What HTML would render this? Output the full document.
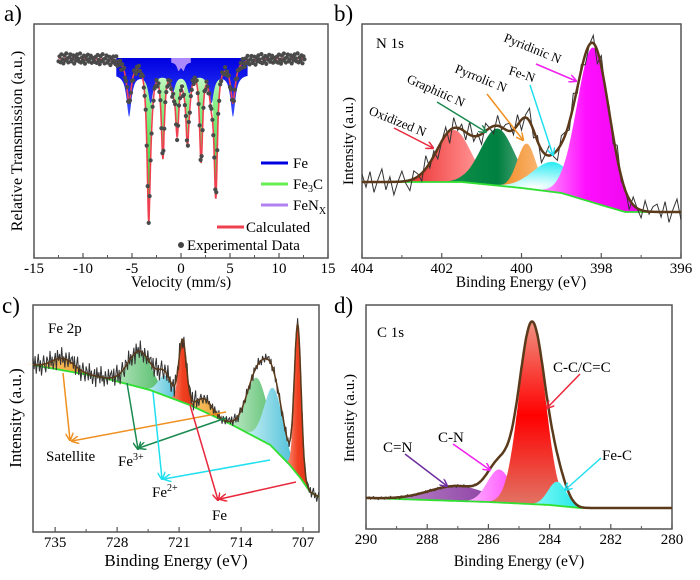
<!DOCTYPE html>
<html><head><meta charset="utf-8"><style>
html,body{margin:0;padding:0;background:#fff;}
svg{display:block;}
svg text{font-family:"Liberation Serif","DejaVu Serif","Noto Serif CJK SC",serif;}
</style></head><body>
<svg id="fig" width="700" height="580" viewBox="0 0 700 580">
<defs>
<linearGradient id="gBlue" x1="0" y1="0" x2="0" y2="1"><stop offset="0" stop-color="#0000e0"/><stop offset="1" stop-color="#3a50ff"/></linearGradient>
<linearGradient id="gGreenA" x1="0" y1="0" x2="0" y2="1"><stop offset="0" stop-color="#f4fff0"/><stop offset="0.3" stop-color="#8af08a"/><stop offset="1" stop-color="#22cc22"/></linearGradient>
<linearGradient id="gOx" x1="0" y1="0" x2="1" y2="0"><stop offset="0" stop-color="#e00000"/><stop offset="0.6" stop-color="#f88"/><stop offset="1" stop-color="#fff"/></linearGradient>
<linearGradient id="gGr" x1="0" y1="0" x2="1" y2="0"><stop offset="0" stop-color="#1a9a50"/><stop offset="0.5" stop-color="#008040"/><stop offset="1" stop-color="#f0f0f0"/></linearGradient>
<linearGradient id="gPy" x1="0" y1="0" x2="1" y2="0"><stop offset="0" stop-color="#f07800"/><stop offset="1" stop-color="#ffd8b0"/></linearGradient>
<radialGradient id="gFeN" cx="0.4" cy="0.5" r="0.6"><stop offset="0" stop-color="#fff"/><stop offset="1" stop-color="#00e8f0"/></radialGradient>
<linearGradient id="gPyd" x1="0" y1="0" x2="1" y2="0"><stop offset="0" stop-color="#ffe0ff"/><stop offset="0.45" stop-color="#ff10ff"/><stop offset="1" stop-color="#e000e0"/></linearGradient>
<linearGradient id="gCg" x1="0" y1="0" x2="1" y2="0"><stop offset="0" stop-color="#f4fff4"/><stop offset="1" stop-color="#10a030"/></linearGradient>
<linearGradient id="gCc" x1="0" y1="0" x2="1" y2="0"><stop offset="0" stop-color="#f0ffff"/><stop offset="1" stop-color="#10a8c8"/></linearGradient>
<linearGradient id="gCr" x1="0" y1="0" x2="1" y2="0"><stop offset="0" stop-color="#ffb0a0"/><stop offset="0.5" stop-color="#f04020"/><stop offset="1" stop-color="#d83018"/></linearGradient>
<linearGradient id="gCo" x1="0" y1="0" x2="1" y2="0"><stop offset="0" stop-color="#ffe0a0"/><stop offset="1" stop-color="#e88800"/></linearGradient>
<linearGradient id="gDr" x1="0" y1="0" x2="0" y2="1"><stop offset="0" stop-color="#f09080"/><stop offset="0.5" stop-color="#ff0000"/><stop offset="1" stop-color="#e07868"/></linearGradient>
<linearGradient id="gDp" x1="0" y1="0" x2="1" y2="0"><stop offset="0" stop-color="#d8b0e0"/><stop offset="1" stop-color="#600080"/></linearGradient>
<linearGradient id="gDm" x1="0" y1="0" x2="1" y2="0"><stop offset="0" stop-color="#ffe0ff"/><stop offset="1" stop-color="#ff00ff"/></linearGradient>
<linearGradient id="gDc" x1="0" y1="0" x2="1" y2="0"><stop offset="0" stop-color="#a0ffff"/><stop offset="1" stop-color="#00e0e0"/></linearGradient>
<marker id="m-red" markerWidth="8" markerHeight="8" refX="7" refY="4" orient="auto" markerUnits="userSpaceOnUse"><path d="M0,0 L8,4 L0,8" fill="none" stroke="#e8283c" stroke-width="1.5"/></marker>
<marker id="m-grn" markerWidth="8" markerHeight="8" refX="7" refY="4" orient="auto" markerUnits="userSpaceOnUse"><path d="M0,0 L8,4 L0,8" fill="none" stroke="#1a8a50" stroke-width="1.5"/></marker>
<marker id="m-org" markerWidth="8" markerHeight="8" refX="7" refY="4" orient="auto" markerUnits="userSpaceOnUse"><path d="M0,0 L8,4 L0,8" fill="none" stroke="#f09020" stroke-width="1.5"/></marker>
<marker id="m-cyn" markerWidth="8" markerHeight="8" refX="7" refY="4" orient="auto" markerUnits="userSpaceOnUse"><path d="M0,0 L8,4 L0,8" fill="none" stroke="#20e0f0" stroke-width="1.5"/></marker>
<marker id="m-mag" markerWidth="8" markerHeight="8" refX="7" refY="4" orient="auto" markerUnits="userSpaceOnUse"><path d="M0,0 L8,4 L0,8" fill="none" stroke="#f020f0" stroke-width="1.5"/></marker>
<marker id="m-pur" markerWidth="8" markerHeight="8" refX="7" refY="4" orient="auto" markerUnits="userSpaceOnUse"><path d="M0,0 L8,4 L0,8" fill="none" stroke="#7030a0" stroke-width="1.5"/></marker>
</defs>

<text x="4" y="21" font-size="23">a)</text>
<text x="334" y="21" font-size="23">b)</text>
<text x="2" y="313" font-size="23">c)</text>
<text x="334" y="313" font-size="23">d)</text>

<text x="181" y="287" font-size="15.5" text-anchor="middle">Velocity (mm/s)</text>
<text transform="translate(22,141) rotate(-90)" font-size="16" text-anchor="middle">Relative Transmission (a.u.)</text>
<text x="521" y="287" font-size="15.5" text-anchor="middle">Binding Energy (eV)</text>
<text transform="translate(353,141) rotate(-90)" font-size="15" text-anchor="middle">Intensity (a.u.)</text>
<text x="176" y="566" font-size="17" text-anchor="middle">Binding Energy (eV)</text>
<text transform="translate(21,418) rotate(-90)" font-size="17" text-anchor="middle">Intensity (a.u.)</text>
<text x="519" y="566" font-size="15.5" text-anchor="middle">Binding Energy (eV)</text>
<text transform="translate(354,418) rotate(-90)" font-size="15" text-anchor="middle">Intensity (a.u.)</text>

<g>
<line x1="261" y1="163" x2="288" y2="163" stroke="#0000e0" stroke-width="3"/>
<text x="293" y="168" font-size="15">Fe</text>
<line x1="261" y1="184" x2="288" y2="184" stroke="#66ee55" stroke-width="3"/>
<text x="293" y="189" font-size="15">Fe<tspan font-size="10" dy="3">3</tspan><tspan dy="-3">C</tspan></text>
<line x1="261" y1="205" x2="288" y2="205" stroke="#b080f0" stroke-width="3"/>
<text x="293" y="210" font-size="15">FeN<tspan font-size="10" dy="4">X</tspan></text>
<line x1="217" y1="227" x2="244" y2="227" stroke="#f04050" stroke-width="3"/>
<text x="246" y="232" font-size="15">Calculated</text>
<circle cx="181" cy="245" r="3" fill="#444"/>
<text x="187" y="250" font-size="15">Experimental Data</text>
</g>

<text x="376" y="48" font-size="15">N 1s</text>
<text x="48" y="333" font-size="15">Fe 2p</text>
<text x="377" y="337" font-size="15">C 1s</text>

<g font-size="13">
<text transform="translate(368,114) rotate(22)">Oxidized N</text>
<text transform="translate(406,82) rotate(24)">Graphitic N</text>
<text transform="translate(454,72) rotate(22)">Pyrrolic N</text>
<text transform="translate(508,74) rotate(18)">Fe-N</text>
<text transform="translate(503,41) rotate(22)">Pyridinic N</text>
</g>
<g stroke-width="1.5" fill="none">
<line x1="394" y1="128" x2="433" y2="148" stroke="#e8283c" marker-end="url(#m-red)"/>
<line x1="437" y1="102" x2="486" y2="132" stroke="#1a8a50" marker-end="url(#m-grn)"/>
<line x1="487" y1="94" x2="523" y2="140" stroke="#f09020" marker-end="url(#m-org)"/>
<line x1="530" y1="85" x2="553" y2="155" stroke="#20e0f0" marker-end="url(#m-cyn)"/>
<line x1="536" y1="64" x2="576" y2="81" stroke="#f020f0" marker-end="url(#m-mag)"/>
</g>

<g font-size="15">
<text x="46" y="461">Satellite</text>
<text x="118" y="466">Fe<tspan font-size="10" dy="-6">3+</tspan></text>
<text x="152" y="497">Fe<tspan font-size="10" dy="-6">2+</tspan></text>
<text x="212" y="520">Fe</text>
</g>
<g stroke-width="1.5" fill="none">
<polyline points="63,373 70,440" stroke="#f09020" marker-end="url(#m-org)"/>
<polyline points="226,412 72,441" stroke="#f09020" marker-end="url(#m-org)"/>
<polyline points="127,383 138,449" stroke="#1a8a50" marker-end="url(#m-grn)"/>
<polyline points="226,418 139,448" stroke="#1a8a50" marker-end="url(#m-grn)"/>
<polyline points="153,392 162,479" stroke="#20e0f0" marker-end="url(#m-cyn)"/>
<polyline points="270,460 164,479" stroke="#20e0f0" marker-end="url(#m-cyn)"/>
<polyline points="190,405 218,500" stroke="#e8283c" marker-end="url(#m-red)"/>
<polyline points="296,482 220,499" stroke="#e8283c" marker-end="url(#m-red)"/>
</g>

<g font-size="15">
<text x="553" y="372">C-C/C=C</text>
<text x="438" y="442">C-N</text>
<text x="383" y="452">C=N</text>
<text x="602" y="460">Fe-C</text>
</g>
<g stroke-width="1.5" fill="none">
<line x1="580" y1="374" x2="547" y2="408" stroke="#e8283c" marker-end="url(#m-red)"/>
<line x1="453" y1="444" x2="490" y2="470" stroke="#f020f0" marker-end="url(#m-mag)"/>
<line x1="405" y1="454" x2="447" y2="486" stroke="#7030a0" marker-end="url(#m-pur)"/>
<line x1="601" y1="458" x2="565" y2="490" stroke="#20e0f0" marker-end="url(#m-cyn)"/>
</g>
</svg>
<script>
// ---------- data ----------
const aTicks=[-15,-10,-5,0,5,10,15];
const feCenters=[-5.3,-3.1,-0.85,0.85,3.1,5.3];
const feDepths=[42,28,18,18,28,42];
const fe3cCenters=[-3.3,-1.85,-0.4,0.65,2.05,3.55];
const fe3cDepths=[140,92,60,66,96,128];
const fenxCenters=[-0.25,0.25];
const fenxDepths=[8,8];
const noise=[3,-2,4,-4,1,5,-3,2,-5,0,4,-1,-4,3,1,-3,5,-2,2,-4,0,3,-5,4,-1,2,-3,5,-2,1,-4,3,0,-3,4,-1,2];

const bTicks=[404,402,400,398,396];
const bBaseE=[404,401.5,400,399,398,397.4,396];
const bBaseV=[76,76,70,65,53,46,46];
const bCenters=[401.7,400.6,399.87,399.2,398.2];
const bHeights=[52,57,45,30,155];
const bWidths=[1.0,1.0,0.55,1.2,0.95];
const bFills=['url(#gOx)','url(#gGr)','url(#gPy)','url(#gFeN)','url(#gPyd)'];
const bNames=['oxidized-n','graphitic-n','pyrrolic-n','fe-n','pyridinic-n'];

const cTicks=[735,728,721,714,707];
const cBaseE=[737.5,729.9,724.3,719.8,715.2,710.7,708.5,707.3,706.2,705.2];
const cBaseV=[167,155,142,127,108,87,67,54,40,35];
const cCenters=[734.1,725.4,722.6,718.1,712.2,710.3,720.6,707.6];
const cHeights=[12,36,20,13,60,60,62,148];
const cWidths=[3,3.2,1.8,2,2.8,2.5,1.0,0.9];
const cFills=['url(#gCo)','url(#gCg)','url(#gCc)','url(#gCo)','url(#gCg)','url(#gCc)','url(#gCr)','url(#gCr)'];
const cNames=['satellite-1','fe3plus-2p1','fe2plus-2p1','satellite-2','fe3plus-2p3','fe2plus-2p3','fe0-2p1','fe0-2p3'];

const dTicks=[290,288,286,284,282,280];
const dBaseE=[290,286,284,283,280];
const dBaseV=[31,27,24,21,21];
const dCenters=[287.0,285.65,284.57,283.75];
const dHeights=[15,33,181,24];
const dWidths=[2.2,0.9,1.0,0.7];
const dFills=['url(#gDp)','url(#gDm)','url(#gDr)','url(#gDc)'];
const dNames=['c-eq-n','c-n','c-c','fe-c'];

// ---------- helpers ----------
const NS='http://www.w3.org/2000/svg';
const svg=document.getElementById('fig');
function el(tag,attrs,name){
  const e=document.createElementNS(NS,tag);
  for(const k in attrs) e.setAttribute(k,attrs[k]);
  
  
  svg.insertBefore(e, svg.querySelector('text'));
  return e;
}
function lin(d0,d1,p0,p1){return v=>p0+(v-d0)*(p1-p0)/(d1-d0);}
function interp(xs,ys,x){
  const asc=xs[1]>xs[0];
  for(let i=0;i<xs.length-1;i++){
    const a=xs[i],b=xs[i+1];
    if(asc?(x>=a&&x<=b):(x<=a&&x>=b)) return ys[i]+(ys[i+1]-ys[i])*(x-a)/(b-a);
  }
  return (asc?x<xs[0]:x>xs[0])?ys[0]:ys[ys.length-1];
}
function gauss(x,c,w){return Math.exp(-4*Math.LN2*(x-c)*(x-c)/(w*w));}
function lor(x,c,g){return 1/(1+((x-c)/g)*((x-c)/g));}
function range(a,b,s){const r=[];if(a<b){for(let x=a;x<=b+1e-9;x+=s)r.push(x);}else{for(let x=a;x>=b-1e-9;x-=s)r.push(x);}return r;}
function pathFrom(xs,f,sx,sy){return xs.map((x,i)=>(i?'L':'M')+sx(x).toFixed(1)+','+sy(f(x)).toFixed(1)).join(' ');}
function areaPath(xs,f0,f1,sx,sy){
  let d=pathFrom(xs,f1,sx,sy);
  const rev=xs.slice().reverse();
  d+=' '+rev.map(x=>'L'+sx(x).toFixed(1)+','+sy(f0(x)).toFixed(1)).join(' ')+' Z';
  return d;
}
function frame(x0,y0,x1,y1,name){
  el('rect',{x:x0,y:y0,width:x1-x0,height:y1-y0,fill:'none',stroke:'#555','stroke-width':1.5},name);
}
function xAxis(ticks,sx,yb,name){
  ticks.forEach((t,i)=>{
    el('line',{x1:sx(t),x2:sx(t),y1:yb,y2:yb-5,stroke:'#555','stroke-width':1.2},name+'-tick');
    const lb=el('text',{x:sx(t),y:yb+15,'font-size':15,'text-anchor':'middle'},name+'-tick-label');
    lb.textContent=t;
    if(i<ticks.length-1){
      const m=(t+ticks[i+1])/2;
      el('line',{x1:sx(m),x2:sx(m),y1:yb,y2:yb-3,stroke:'#555','stroke-width':1},name+'-minor-tick');
    }
  });
}

// ---------- panel a ----------
(function(){
  const sx=lin(-15,15,34,328), sy=d=>58+d;
  frame(34,24,328,258,'plot-frame-a');
  xAxis(aTicks,sx,258,'x-axis-a');
  const comp=(cs,ds,g)=>v=>cs.reduce((s,c,i)=>s+ds[i]*lor(v,c,g),0);
  const fe=comp(feCenters,feDepths,0.3), f3=comp(fe3cCenters,fe3cDepths,0.2), fn=comp(fenxCenters,fenxDepths,0.2);
  const zero=()=>0;
  el('path',{d:areaPath(range(-5,5.2,0.02),zero,v=>f3(v)+6,sx,sy),fill:'url(#gGreenA)'},'area-fe3c');
  el('path',{d:areaPath(range(-6.6,6.8,0.02),zero,v=>Math.min(fe(v)+16,60),sx,sy),fill:'url(#gBlue)'},'area-fe');
  el('path',{d:areaPath(range(-1,1,0.02),zero,v=>fn(v)+4,sx,sy),fill:'#c9a0ff',opacity:0.85},'area-fenx');
  const tot=v=>fe(v)+f3(v)+fn(v);
  const full=range(-12.5,12.6,0.02);
  el('path',{d:pathFrom(full,tot,sx,sy),fill:'none',stroke:'#f04050','stroke-width':1.6},'calculated-line');
  range(-12.5,12.6,0.1).forEach((v,i)=>{
    const nv=noise[i%noise.length]*(Math.abs(v)>6?1:0.8);
    el('circle',{cx:sx(v).toFixed(1),cy:sy(tot(v)+nv).toFixed(1),r:2.1,fill:'#4a4a4a'},'experimental-point');
  });
})();

// ---------- generic XPS panel ----------
function xps(o){
  const sx=lin(o.e0,o.e1,o.x0,o.x1), sy=v=>o.yb-v;
  frame(o.x0,o.yt,o.x1,o.yb,'plot-frame-'+o.id);
  xAxis(o.ticks,sx,o.yb,'x-axis-'+o.id);
  const base=E=>interp(o.baseE,o.baseV,E);
  const pk=i=>E=>o.heights[i]*gauss(E,o.centers[i],o.widths[i]);
  o.centers.forEach((c,i)=>{
    const xs=range(c+2*o.widths[i],c-2*o.widths[i],0.02);
    el('path',{d:areaPath(xs,base,E=>base(E)+pk(i)(E),sx,sy),fill:o.fills[i]},'peak-'+o.names[i]);
  });
  const env=E=>base(E)+o.centers.reduce((s,c,i)=>s+pk(i)(E),0);
  const all=range(o.e0,o.e1,0.02);
  el('path',{d:pathFrom(all,base,sx,sy),fill:'none',stroke:'#30e030','stroke-width':1.8},'background-'+o.id);
  const rs=range(o.e0,o.e1,o.rawStep);
  el('path',{d:pathFrom(rs,E=>{const i=rs.indexOf(E);return env(E)+noise[i%noise.length]*o.rawAmp(E);},sx,sy),fill:'none',stroke:'#333','stroke-width':1},'raw-spectrum-'+o.id);
  el('path',{d:pathFrom(all,env,sx,sy),fill:'none',stroke:'#5a3a1a','stroke-width':o.envW},'envelope-'+o.id);
}
xps({id:'b',e0:404,e1:396,x0:362,x1:681,yt:24,yb:258,ticks:bTicks,baseE:bBaseE,baseV:bBaseV,centers:bCenters,heights:bHeights,widths:bWidths,fills:bFills,names:bNames,rawStep:0.1,rawAmp:E=>2.6,envW:2.5});
xps({id:'c',e0:737.5,e1:705.2,x0:33,x1:319,yt:305,yb:532,ticks:cTicks,baseE:cBaseE,baseV:cBaseV,centers:cCenters,heights:cHeights,widths:cWidths,fills:cFills,names:cNames,rawStep:0.12,rawAmp:E=>E>719?2.2:1.2,envW:1.5});
xps({id:'d',e0:290,e1:280,x0:366,x1:672,yt:305,yb:529,ticks:dTicks,baseE:dBaseE,baseV:dBaseV,centers:dCenters,heights:dHeights,widths:dWidths,fills:dFills,names:dNames,rawStep:0.05,rawAmp:E=>E>286?0.3:0.05,envW:2.5});
</script>
</body></html>
